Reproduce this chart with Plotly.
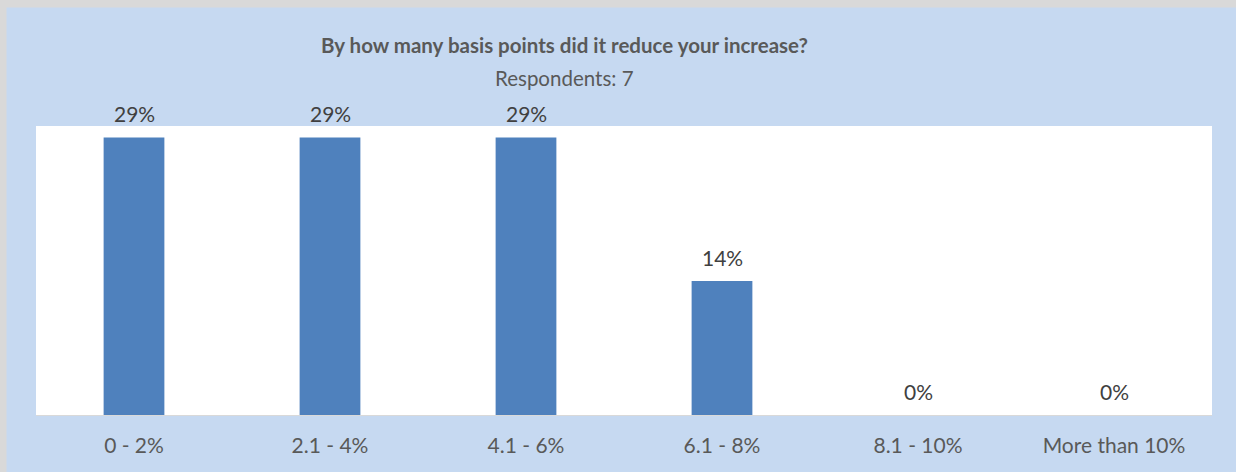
import plotly.graph_objects as go

categories = ["0 - 2%", "2.1 - 4%", "4.1 - 6%", "6.1 - 8%", "8.1 - 10%", "More than 10%"]
shares = [29, 29, 29, 14, 0, 0]
labels = [f"{v}%" for v in shares]

title_text = "By how many basis points did it reduce your increase?"
subtitle_text = "Respondents: 7"

W, H = 1236, 472
M_L, M_R, M_T, M_B = 36, 24, 126, 57
plot_w = W - M_L - M_R
plot_h = H - M_T - M_B


def px_x(p):
    return (p - M_L) / plot_w


def px_y(p):
    return (H - M_B - p) / plot_h


FONT = "Lato"
TEXT = "#595959"
LABEL = "#404040"
BG = "#C6D9F1"
EDGE = "#D9D9D9"

fig = go.Figure(
    go.Bar(
        x=categories,
        y=shares,
        marker=dict(color="#4F81BD", line=dict(width=0)),
        hoverinfo="x+y",
    )
)

for c, v, t in zip(categories, shares, labels):
    fig.add_annotation(
        x=c, y=v, xref="x", yref="y", text=t, showarrow=False,
        yanchor="bottom", yshift=9,
        font=dict(family=FONT, size=21, color=LABEL),
    )

fig.add_annotation(
    x=px_x(564), xref="paper", y=px_y(45), yref="paper",
    text=f"<b>{title_text}</b>", showarrow=False,
    xanchor="center", yanchor="middle",
    font=dict(family=FONT, size=20.5, color=TEXT),
)
fig.add_annotation(
    x=px_x(564), xref="paper", y=px_y(77.5), yref="paper",
    text=subtitle_text, showarrow=False,
    xanchor="center", yanchor="middle",
    font=dict(family=FONT, size=20.5, color=TEXT),
)

# thin grey frame along the top and left edges
fig.add_shape(type="rect", xref="paper", yref="paper", layer="below",
              x0=px_x(-5), x1=px_x(6.5), y0=px_y(H + 5), y1=px_y(-5),
              fillcolor=EDGE, line=dict(width=0))
fig.add_shape(type="rect", xref="paper", yref="paper", layer="below",
              x0=px_x(-5), x1=px_x(W + 5), y0=px_y(7.5), y1=px_y(-5),
              fillcolor=EDGE, line=dict(width=0))

fig.update_layout(
    width=W, height=H,
    margin=dict(l=M_L, r=M_R, t=M_T, b=M_B, pad=0),
    paper_bgcolor=BG,
    plot_bgcolor="white",
    bargap=0.69,
    showlegend=False,
    font=dict(family=FONT, color=TEXT),
    xaxis=dict(
        showline=True, linecolor=EDGE, linewidth=1,
        showgrid=False, zeroline=False,
        ticks="outside", ticklen=12, tickcolor="rgba(0,0,0,0)",
        tickfont=dict(family=FONT, size=21, color=TEXT),
    ),
    yaxis=dict(
        range=[0, 30.2], visible=False, showgrid=False, zeroline=False,
    ),
)

fig.write_html("out.html")
